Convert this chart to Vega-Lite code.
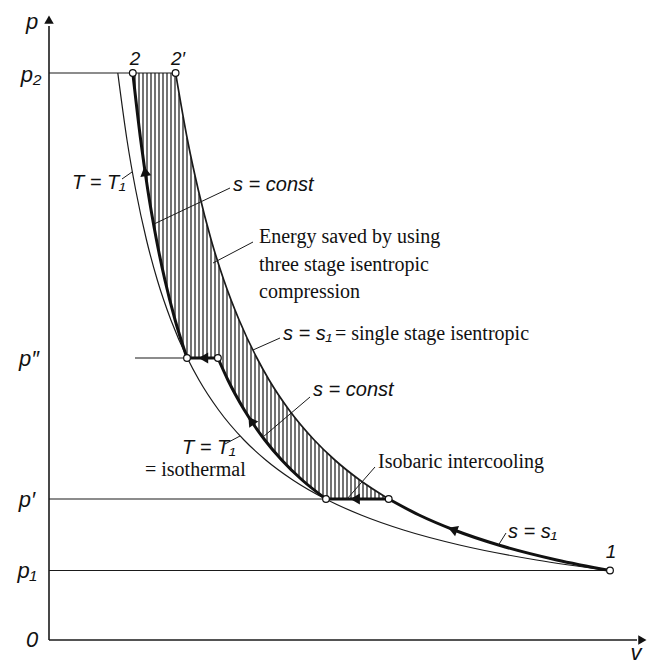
{
"$schema":"https://vega.github.io/schema/vega-lite/v6.json",
"width":598,"height":630,"autosize":"none",
"padding":{"left":49,"top":10,"right":0,"bottom":24},
"background":"white",
"config":{"view":{"stroke":null}},
"datasets":{
"path":[
{"leg":"A","v":339.7,"p":141},{"leg":"A","v":370,"p":125},{"leg":"A","v":405.1,"p":110},{"leg":"A","v":449.5,"p":95},{"leg":"A","v":507.7,"p":80},{"leg":"A","v":561,"p":69.5},
{"leg":"B","v":277,"p":141},{"leg":"B","v":339.7,"p":141},
{"leg":"C","v":168.9,"p":282},{"leg":"C","v":178.9,"p":260},{"leg":"C","v":195.3,"p":230},{"leg":"C","v":215.8,"p":200},{"leg":"C","v":232.7,"p":180},{"leg":"C","v":253.1,"p":160},{"leg":"C","v":277,"p":141},
{"leg":"D","v":138,"p":282},{"leg":"D","v":168.9,"p":282},
{"leg":"E","v":83.8,"p":567},{"leg":"E","v":91.7,"p":500},{"leg":"E","v":98.8,"p":450},{"leg":"E","v":107.5,"p":400},{"leg":"E","v":115.9,"p":360},{"leg":"E","v":126.1,"p":320},{"leg":"E","v":138,"p":282}
],
"single":[
{"v":126.6,"p":567},{"v":138.5,"p":500},{"v":149.3,"p":450},{"v":162.2,"p":400},{"v":174.8,"p":360},{"v":190.1,"p":320},{"v":207.9,"p":282},{"v":220.1,"p":260},{"v":240.1,"p":230},{"v":265.2,"p":200},{"v":285.8,"p":180},{"v":310.7,"p":160},{"v":339.7,"p":141}
],
"isotherm":[
{"v":68.8,"p":567},{"v":78,"p":500},{"v":86.7,"p":450},{"v":97.5,"p":400},{"v":108.3,"p":360},{"v":121.9,"p":320},{"v":138.3,"p":282},{"v":150,"p":260},{"v":169.6,"p":230},{"v":195,"p":200},{"v":216.7,"p":180},{"v":243.8,"p":160},{"v":276.6,"p":141},{"v":312,"p":125},{"v":354.5,"p":110},{"v":410.5,"p":95},{"v":487.5,"p":80},{"v":561,"p":69.5}
],
"hatch":[
{"v":86,"p":546.8,"p2":567},{"v":90,"p":513.1,"p2":567},{"v":94,"p":482.8,"p2":567},{"v":98,"p":455.4,"p2":567},{"v":102,"p":430.6,"p2":567},{"v":106,"p":408.0,"p2":567},{"v":110,"p":387.4,"p2":567},{"v":114,"p":368.5,"p2":567},{"v":118,"p":351.1,"p2":567},{"v":122,"p":335.1,"p2":567},{"v":126,"p":320.3,"p2":567},
{"v":130,"p":306.6,"p2":546.5},{"v":134,"p":293.9,"p2":523.6},{"v":138,"p":282,"p2":502.3},{"v":142,"p":282,"p2":482.5},{"v":146,"p":282,"p2":464.0},{"v":150,"p":282,"p2":446.6},{"v":154,"p":282,"p2":430.3},{"v":158,"p":282,"p2":415.1},{"v":162,"p":282,"p2":400.7},{"v":166,"p":282,"p2":387.1},
{"v":170,"p":279.3,"p2":374.4},{"v":174,"p":270.3,"p2":362.2},{"v":178,"p":261.9,"p2":350.8},{"v":182,"p":253.9,"p2":340.0},{"v":186,"p":246.3,"p2":329.8},{"v":190,"p":239.0,"p2":320.0},{"v":194,"p":232.1,"p2":310.7},{"v":198,"p":225.6,"p2":301.9},{"v":202,"p":219.4,"p2":293.5},{"v":206,"p":213.4,"p2":285.5},
{"v":210,"p":207.8,"p2":277.9},{"v":214,"p":202.3,"p2":270.6},{"v":218,"p":197.2,"p2":263.6},{"v":222,"p":192.2,"p2":256.9},{"v":226,"p":187.5,"p2":250.5},{"v":230,"p":182.9,"p2":244.4},{"v":234,"p":178.6,"p2":238.5},{"v":238,"p":174.4,"p2":232.9},{"v":242,"p":170.4,"p2":227.5},{"v":246,"p":166.5,"p2":222.3},
{"v":250,"p":162.8,"p2":217.3},{"v":254,"p":159.2,"p2":212.5},{"v":258,"p":155.7,"p2":207.8},{"v":262,"p":152.4,"p2":203.4},{"v":266,"p":149.2,"p2":199.1},{"v":270,"p":146.1,"p2":194.9},{"v":274,"p":143.2,"p2":191.0},{"v":278,"p":141,"p2":187.1},{"v":282,"p":141,"p2":183.4},{"v":286,"p":141,"p2":179.7},
{"v":290,"p":141,"p2":176.3},{"v":294,"p":141,"p2":172.9},{"v":298,"p":141,"p2":169.6},{"v":302,"p":141,"p2":166.5},{"v":306,"p":141,"p2":163.4},{"v":310,"p":141,"p2":160.4},{"v":314,"p":141,"p2":157.5},{"v":318,"p":141,"p2":154.7},{"v":322,"p":141,"p2":152.0},{"v":326,"p":141,"p2":149.4},
{"v":330,"p":141,"p2":146.9},{"v":334,"p":141,"p2":144.4},{"v":338,"p":141,"p2":142.0}
],
"levels":[
{"v":0,"v2":126.6,"p":567},{"v":86,"v2":138,"p":282},{"v":0,"v2":339.7,"p":141},{"v":0,"v2":561,"p":69.5}
],
"states":[
{"v":83.8,"p":567},{"v":126.6,"p":567},{"v":138,"p":282},{"v":168.9,"p":282},{"v":277,"p":141},{"v":339.7,"p":141},{"v":561,"p":69.5}
],
"leaders":[
{"v":73,"p":461,"v2":83,"p2":468},
{"v":181,"p":452,"v2":105,"p2":416},
{"v":204,"p":398,"v2":164,"p2":377},
{"v":231,"p":302,"v2":204,"p2":290},
{"v":261,"p":243,"v2":214,"p2":203},
{"v":176,"p":196,"v2":191,"p2":204},
{"v":326,"p":173,"v2":298,"p2":141},
{"v":457,"p":107,"v2":449.5,"p2":95}
],
"axes":[
{"v":0,"p":0,"v2":0,"p2":614},{"v":0,"p":0,"v2":588,"p2":0}
],
"arrowA":[{"v":405.1,"p":110}],
"arrowBD":[{"v":307.7,"p":141},{"v":156,"p":282}],
"arrowC":[{"v":203,"p":218}],
"arrowE":[{"v":96.3,"p":467}],
"arrowY":[{"v":0,"p":619}],
"arrowX":[{"v":592,"p":0}],
"axisLabels":[
{"t":"p","v":-17,"p":618},{"t":"v","v":587,"p":-13},{"t":"p₂","v":-18,"p":565},{"t":"p″","v":-20,"p":281},{"t":"p′","v":-22,"p":140},{"t":"p₁","v":-22,"p":69},{"t":"0","v":-17,"p":0}
],
"pointLabels":[
{"t":"2","v":86,"p":581},{"t":"2′","v":129,"p":581},{"t":"1","v":562,"p":88}
],
"formulas":[
{"t":"T = T₁","v":23,"p":457},{"t":"s = const","v":184,"p":455},{"t":"s = s₁","v":234,"p":306},{"t":"s = const","v":264,"p":250},{"t":"T = T₁","v":133,"p":192},{"t":"s = s₁","v":459,"p":108}
],
"words":[
{"t":"Energy saved by using","v":210,"p":403},{"t":"three stage isentropic","v":210,"p":375},{"t":"compression","v":210,"p":348},
{"t":"= single stage isentropic","v":286,"p":306},{"t":"= isothermal","v":96,"p":170},{"t":"Isobaric intercooling","v":329,"p":178}
]
},
"encoding":{
"x":{"field":"v","type":"quantitative","scale":{"domain":[0,598],"nice":false,"zero":false},"axis":null},
"y":{"field":"p","type":"quantitative","scale":{"domain":[0,630],"nice":false,"zero":false},"axis":null}
},
"layer":[
{"data":{"name":"hatch"},"mark":{"type":"rule","color":"#000","strokeWidth":1.1},
 "encoding":{"y2":{"field":"p2"}}},
{"data":{"name":"isotherm"},"mark":{"type":"line","color":"#1a1a1a","strokeWidth":1.2,"interpolate":"monotone"},"encoding":{}},
{"data":{"name":"levels"},"mark":{"type":"rule","color":"#1a1a1a","strokeWidth":1.2},
 "encoding":{"x2":{"field":"v2"}}},
{"data":{"name":"single"},"mark":{"type":"line","color":"#1a1a1a","strokeWidth":1.7,"interpolate":"monotone"},"encoding":{}},
{"data":{"name":"path"},"mark":{"type":"line","color":"#111","strokeWidth":3,"interpolate":"monotone","strokeCap":"round"},
 "encoding":{"detail":{"field":"leg"}}},
{"data":{"name":"leaders"},"mark":{"type":"rule","color":"#1a1a1a","strokeWidth":1},
 "encoding":{"x2":{"field":"v2"},"y2":{"field":"p2"}}},
{"data":{"name":"axes"},"mark":{"type":"rule","color":"#1a1a1a","strokeWidth":1.6},
 "encoding":{"x2":{"field":"v2"},"y2":{"field":"p2"}}},
{"data":{"name":"arrowA"},"mark":{"type":"point","shape":"triangle","filled":true,"fill":"#111","strokeWidth":0,"size":120,"angle":291,"opacity":1}},
{"data":{"name":"arrowBD"},"mark":{"type":"point","shape":"triangle","filled":true,"fill":"#111","strokeWidth":0,"size":120,"angle":270,"opacity":1}},
{"data":{"name":"arrowC"},"mark":{"type":"point","shape":"triangle","filled":true,"fill":"#111","strokeWidth":0,"size":120,"angle":326,"opacity":1}},
{"data":{"name":"arrowE"},"mark":{"type":"point","shape":"triangle","filled":true,"fill":"#111","strokeWidth":0,"size":120,"angle":351,"opacity":1}},
{"data":{"name":"arrowY"},"mark":{"type":"point","shape":"triangle","filled":true,"fill":"#111","strokeWidth":0,"size":90,"angle":0,"opacity":1}},
{"data":{"name":"arrowX"},"mark":{"type":"point","shape":"triangle","filled":true,"fill":"#111","strokeWidth":0,"size":90,"angle":90,"opacity":1}},
{"data":{"name":"states"},"mark":{"type":"point","shape":"circle","filled":true,"fill":"white","stroke":"#111","strokeWidth":1.2,"size":45,"opacity":1}},
{"data":{"name":"axisLabels"},"mark":{"type":"text","font":"Liberation Sans, sans-serif","fontStyle":"italic","fontSize":22,"align":"center","baseline":"middle","color":"#111"},
 "encoding":{"text":{"field":"t"}}},
{"data":{"name":"pointLabels"},"mark":{"type":"text","font":"Liberation Sans, sans-serif","fontStyle":"italic","fontSize":19,"align":"center","baseline":"middle","color":"#111"},
 "encoding":{"text":{"field":"t"}}},
{"data":{"name":"formulas"},"mark":{"type":"text","font":"Liberation Sans, sans-serif","fontStyle":"italic","fontSize":20,"align":"left","baseline":"middle","color":"#111"},
 "encoding":{"text":{"field":"t"}}},
{"data":{"name":"words"},"mark":{"type":"text","font":"Liberation Serif, DejaVu Serif, serif","fontSize":20,"align":"left","baseline":"middle","color":"#111"},
 "encoding":{"text":{"field":"t"}}}
]
}
